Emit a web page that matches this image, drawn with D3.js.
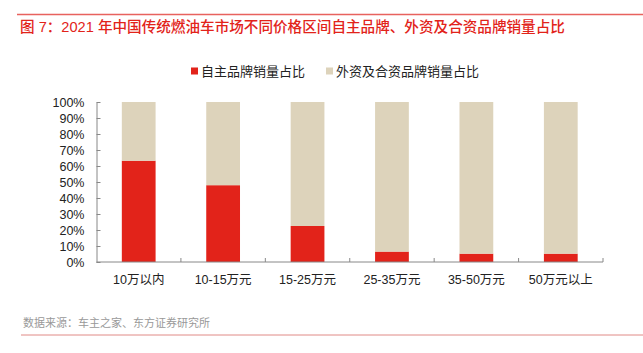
<!DOCTYPE html>
<html><head><meta charset="utf-8">
<script src="https://cdn.jsdelivr.net/npm/d3@7"></script>
<style>body{margin:0;background:#fff;}svg{display:block;font-family:"Liberation Sans","Noto Sans CJK SC",sans-serif;}</style>
</head><body>
<script>
const categories = ["10万以内","10-15万元","15-25万元","25-35万元","35-50万元","50万元以上"];
const domestic = [63.3, 48.0, 22.5, 6.5, 5.2, 5.2];
const foreign = domestic.map(v => 100 - v);
const seriesNames = ["自主品牌销量占比","外资及合资品牌销量占比"];
const colors = ["#e2231a","#ddd3bb"];
const yTicks = [0,10,20,30,40,50,60,70,80,90,100];

const W = 643, H = 353;
const svg = d3.select("body").append("svg").attr("width", W).attr("height", H);

svg.append("line").attr("x1",17).attr("x2",643).attr("y1",14.5).attr("y2",14.5).attr("stroke","#e8625e").attr("stroke-width",1.5);
svg.append("text").attr("x",20).attr("y",32).attr("fill","#e2231a").attr("font-size",14.6).attr("font-weight",500)
  .attr("font-family","'Liberation Sans','Noto Sans CJK SC',sans-serif").text("图 7：2021 年中国传统燃油车市场不同价格区间自主品牌、外资及合资品牌销量占比");

const m = {l:96.5, r:603, t:102, b:262};
const x = d3.scaleBand().domain(categories).range([m.l, m.r]).paddingInner(0.6).paddingOuter(0.3);
const y = d3.scaleLinear().domain([0,100]).range([m.b, m.t]);

const stackData = categories.map((c,i)=>({cat:c, d:domestic[i], f:foreign[i]}));
const stack = d3.stack().keys(["d","f"])(stackData);
svg.append("g").selectAll("g").data(stack).join("g").attr("fill",(d,i)=>colors[i])
  .selectAll("rect").data(d=>d).join("rect")
  .attr("x",d=>x(d.data.cat)).attr("width",x.bandwidth())
  .attr("y",d=>y(d[1])).attr("height",d=>y(d[0])-y(d[1]));

// y axis
const ya = svg.append("g").attr("transform",`translate(${m.l},0)`)
  .call(d3.axisLeft(y).tickValues(yTicks).tickFormat(d=>d+"%").tickSizeInner(-4).tickSizeOuter(0).tickPadding(12));
ya.select(".domain").attr("stroke","#888");
ya.selectAll(".tick line").attr("stroke","#888");
ya.selectAll("text").attr("font-size",12.5).attr("fill","#222").attr("font-family","'Liberation Sans',sans-serif");

// x axis
const xb = d3.scalePoint().domain(d3.range(7)).range([m.l, m.r]);
const xa = svg.append("g").attr("transform",`translate(0,${m.b})`);
xa.append("line").attr("x1",m.l).attr("x2",m.r).attr("stroke","#888");
xa.selectAll("line.t").data(d3.range(1,7)).join("line").attr("class","t")
  .attr("x1",d=>xb(d)).attr("x2",d=>xb(d)).attr("y1",0).attr("y2",-4).attr("stroke","#888");
xa.selectAll("text").data(categories).join("text")
  .attr("x",d=>x(d)+x.bandwidth()/2).attr("y",22).attr("text-anchor","middle")
  .attr("font-size",12.5).attr("fill","#222").text(d=>d);

// legend
const lg = svg.append("g");
const lx = [191, 326];
seriesNames.forEach((n,i)=>{
  lg.append("rect").attr("x",lx[i]).attr("y",67.5).attr("width",7).attr("height",7).attr("fill",colors[i]);
  lg.append("text").attr("x",lx[i]+10).attr("y",76).attr("font-size",13).attr("fill","#222").text(n);
});

// source
svg.append("text").attr("x",23).attr("y",327).attr("font-size",11).attr("fill","#999").text("数据来源：车主之家、东方证券研究所");
svg.append("line").attr("x1",21).attr("x2",643).attr("y1",335).attr("y2",335).attr("stroke","#e08a86").attr("stroke-width",1);
</script>
</body></html>
